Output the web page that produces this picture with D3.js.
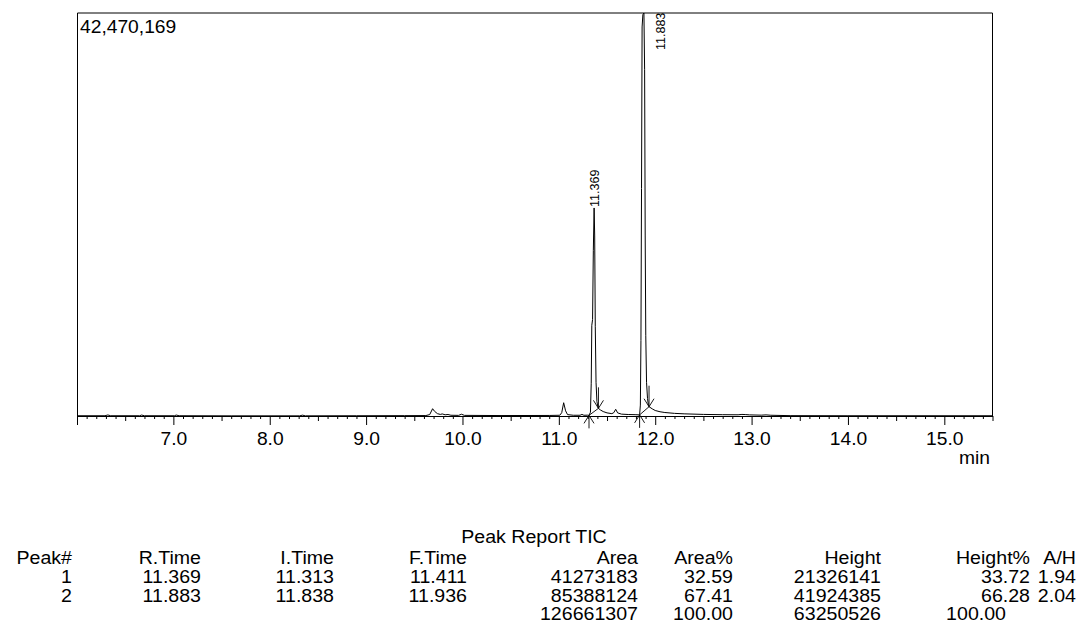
<!DOCTYPE html>
<html>
<head>
<meta charset="utf-8">
<script src="https://cdn.jsdelivr.net/npm/d3@7"></script>
<style>
body { margin: 0; background: #fff; }
svg text { font-family: Arial, "Liberation Sans", sans-serif; fill: #000; }
</style>
</head>
<body>
<svg id="chart" width="1081" height="623"></svg>
<script>
// Chromatogram (TIC), intensity in millions of counts

var traceTime = [
    6.00, 6.29, 6.32, 6.35, 6.65, 6.67, 6.70, 7.01, 7.03, 7.06,
    7.60, 8.31, 8.34, 8.37, 8.90, 9.40, 9.62, 9.66, 9.69, 9.71,
    9.74, 9.77, 9.79, 9.82, 9.85, 9.88, 9.96, 9.99, 10.02, 10.40,
    10.90, 11.01, 11.03, 11.05, 11.07, 11.09, 11.15, 11.22, 11.24, 11.26,
    11.30, 11.313, 11.328, 11.336, 11.342, 11.350, 11.358, 11.366, 11.372, 11.378,
    11.386, 11.395, 11.404, 11.411, 11.43, 11.46, 11.50, 11.55, 11.57, 11.59,
    11.61, 11.65, 11.72, 11.80, 11.838, 11.846, 11.852, 11.858, 11.864, 11.872,
    11.883, 11.890, 11.896, 11.902, 11.910, 11.920, 11.928, 11.936, 11.97, 12.00,
    12.05, 12.10, 12.20, 12.30, 12.50, 12.70, 12.86, 12.90, 12.94, 12.98,
    13.10, 13.15, 13.20, 13.40, 14.00, 15.50
];
var traceSignal = [
    0.08, 0.08, 0.16, 0.08, 0.08, 0.15, 0.08, 0.08, 0.15, 0.08,
    0.07, 0.07, 0.14, 0.07, 0.08, 0.09, 0.10, 0.20, 0.82, 0.55,
    0.30, 0.22, 0.27, 0.18, 0.21, 0.13, 0.12, 0.24, 0.12, 0.10,
    0.11, 0.13, 0.40, 1.45, 0.60, 0.20, 0.13, 0.13, 0.22, 0.13,
    0.14, 0.12, 0.45, 3.5, 9.6, 10.2, 17.5, 21.95, 19.0, 9.5,
    3.6, 1.6, 1.05, 0.86, 0.70, 0.52, 0.38, 0.30, 0.40, 0.76,
    0.38, 0.25, 0.21, 0.19, 0.17, 1.2, 8.0, 24.0, 41.0, 42.3,
    42.47, 36.5, 19.0, 8.5, 3.6, 1.9, 1.3, 1.03, 0.80, 0.63,
    0.50, 0.42, 0.33, 0.28, 0.22, 0.19, 0.18, 0.22, 0.20, 0.17,
    0.14, 0.17, 0.13, 0.09, 0.08, 0.08
];

var maxIntensity = 42470169;
var timeTicks = [6, 7, 8, 9, 10, 11, 12, 13, 14, 15];
var timeTickLabels = ["", "7.0", "8.0", "9.0", "10.0", "11.0", "12.0", "13.0", "14.0", "15.0"];

// integrated peaks
var peakRTime = [11.369, 11.883];
var peakStart = [11.313, 11.838];
var peakEnd = [11.411, 11.936];
var peakStartLevel = [0.12, 0.17];
var peakEndLevel = [0.86, 1.03];
var peakApex = [21.95, 42.47];

// peak report table
var tableTitle = "Peak Report TIC";
var tableHeader = ["Peak#", "R.Time", "I.Time", "F.Time", "Area", "Area%", "Height", "Height%", "A/H"];
var peakNo = ["1", "2"];
var rTime = ["11.369", "11.883"];
var iTime = ["11.313", "11.838"];
var fTime = ["11.411", "11.936"];
var area = ["41273183", "85388124"];
var areaPct = ["32.59", "67.41"];
var height = ["21326141", "41924385"];
var heightPct = ["33.72", "66.28"];
var aOverH = ["1.94", "2.04"];
var totalArea = "126661307";
var totalAreaPct = "100.00";
var totalHeight = "63250526";
var totalHeightPct = "100.00";

var svg = d3.select("#chart");
var fontSize = 17.5;
var stretch = "scale(1.1,1)";
var tableFont = 17.5;
var tableStretch = "scale(1.12,1)";

var frame = { left: 77, right: 992.5, top: 13, bottom: 416.5 };

var x = d3.scaleLinear().domain([6.0, 15.5]).range([frame.left, frame.right]);
var y = d3.scaleLinear().domain([0, maxIntensity / 1e6]).range([frame.bottom, frame.top]);

// clip for trace
svg.append("defs").append("clipPath").attr("id", "plotclip")
    .append("rect")
    .attr("x", frame.left)
    .attr("y", frame.top - 0.5)
    .attr("width", frame.right - frame.left)
    .attr("height", frame.bottom - frame.top + 1);

// frame lines
svg.append("path")
    .attr("d", `M${frame.left + 0.5},${frame.bottom} V${frame.top} H${frame.right} V${frame.bottom}`)
    .attr("fill", "none")
    .attr("stroke", "#000")
    .attr("stroke-width", 1);

// x axis: minor, half and major ticks
var minorTicks = d3.range(61, 155).filter(d => d % 5 != 0).map(d => d / 10);
var halfTicks = d3.range(65, 156, 10).map(d => d / 10);

var axisG = svg.append("g").attr("transform", `translate(0,${Math.floor(frame.bottom)})`);

axisG.append("g")
    .call(d3.axisBottom(x).tickValues(minorTicks).tickSize(3).tickSizeOuter(0).tickFormat(""));
axisG.append("g")
    .call(d3.axisBottom(x).tickValues(halfTicks).tickSize(5).tickSizeOuter(0).tickFormat(""));
var major = axisG.append("g")
    .call(d3.axisBottom(x).tickValues(timeTicks).tickSize(9).tickSizeOuter(0).tickPadding(8)
        .tickFormat((d, i) => timeTickLabels[i]));

axisG.selectAll("path.domain").attr("stroke", "#000");
axisG.selectAll(".tick line").attr("stroke", "#000");
major.attr("font-family", null).attr("font-size", null);
major.selectAll("text")
    .attr("font-size", fontSize)
    .attr("transform", stretch);

svg.append("text")
    .attr("transform", `translate(990,464) ${stretch}`)
    .attr("text-anchor", "end")
    .attr("font-size", fontSize)
    .text("min");

// max intensity label
svg.append("text")
    .attr("transform", `translate(80,33) ${stretch}`)
    .attr("font-size", fontSize)
    .text(d3.format(",")(maxIntensity));

// trace
var traceData = traceTime.map((t, i) => [t, traceSignal[i]]);
var plot = svg.append("g").attr("clip-path", "url(#plotclip)");

// peak baselines
peakStart.forEach((s, i) => {
    plot.append("line")
        .attr("x1", x(s)).attr("y1", y(peakStartLevel[i]))
        .attr("x2", x(peakEnd[i])).attr("y2", y(peakEndLevel[i]))
        .attr("stroke", "#000")
        .attr("stroke-width", 0.9);
});

plot.append("path")
    .datum(traceData)
    .attr("d", d3.line().x(d => x(d[0])).y(d => y(d[1])))
    .attr("fill", "none")
    .attr("stroke", "#000")
    .attr("stroke-width", 1);

// start markers (arrow up, below the trace) and end markers (arrow down)
function arrow(px, py, dir, len) {
    var g = svg.append("g").attr("stroke", "#000").attr("stroke-width", 0.9).attr("fill", "none");
    g.append("line").attr("x1", px).attr("y1", py).attr("x2", px).attr("y2", py + dir * len);
    g.append("path")
        .attr("d", `M${px - 5},${py + dir * 8} L${px},${py} L${px + 5},${py + dir * 8}`);
}
peakStart.forEach((s, i) => arrow(x(s), y(peakStartLevel[i]), 1, 13));
peakEnd.forEach((e, i) => arrow(x(e), y(peakEndLevel[i]), -1, 21));

// peak labels (rotated)
peakRTime.forEach((t, i) => {
    var apexY = y(peakApex[i]);
    var lx = apexY > 60 ? x(t) + 5 : x(t) + 21;
    var ly = apexY > 60 ? apexY - 1 : 50;
    svg.append("text")
        .attr("transform", `translate(${lx},${ly}) rotate(-90)`)
        .attr("font-size", 12.5)
        .text(d3.format(".3f")(t));
});

// peak report table
var colRight = [72, 201, 334, 467, 638, 733, 881, 1030, 1076];
var rowY = [564, 583, 602];

function cell(txt, cx, cy, anchor) {
    svg.append("text")
        .attr("transform", `translate(${cx},${cy}) ${tableStretch}`)
        .attr("text-anchor", anchor || "end")
        .attr("font-size", tableFont)
        .text(txt);
}

cell(tableTitle, 534, 543, "middle");
tableHeader.forEach((h, j) => cell(h, colRight[j], rowY[0]));

var columns = [peakNo, rTime, iTime, fTime, area, areaPct, height, heightPct, aOverH];
peakNo.forEach((p, i) => {
    columns.forEach((col, j) => cell(col[i], colRight[j], rowY[i + 1]));
});

cell(totalArea, colRight[4], 620);
cell(totalAreaPct, colRight[5], 620);
cell(totalHeight, colRight[6], 620);
cell(totalHeightPct, 1006, 620);
</script>
</body>
</html>
